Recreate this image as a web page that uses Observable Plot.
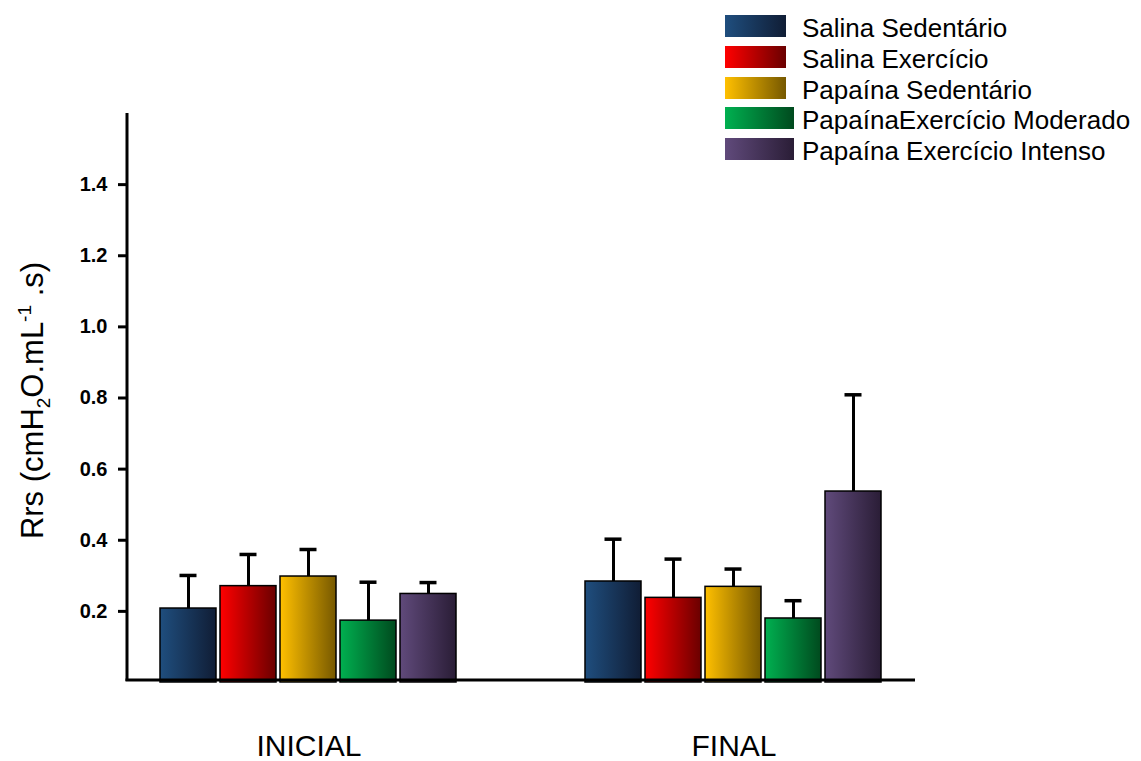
<!DOCTYPE html>
<html>
<head>
<meta charset="utf-8">
<script src="https://cdn.jsdelivr.net/npm/d3@7"></script>
<script src="https://cdn.jsdelivr.net/npm/@observablehq/plot@0.6"></script>
<style>
  html, body { margin: 0; padding: 0; background: #fff; }
  body { position: relative; width: 1141px; height: 761px; overflow: hidden; font-family: "Liberation Sans", Arial, sans-serif; }
  #legend { position: absolute; left: 725px; top: 15px; }
  .row { position: absolute; left: 0; display: flex; align-items: flex-start; white-space: nowrap; }
  .sw { height: 22px; }
  .lab { font-size: 26px; line-height: 26px; color: #000; }
</style>
</head>
<body>
<svg width="0" height="0" style="position:absolute">
  <defs id="grads"></defs>
</svg>
<div id="chart"></div>
<div id="legend"></div>
<script>
// ---- data ----
const groups = ["INICIAL", "FINAL"];
const series = ["Salina Sedentário", "Salina Exercício", "Papaína Sedentário", "PapaínaExercício Moderado", "Papaína Exercício Intenso"];
const meanInicial = [0.208, 0.271, 0.298, 0.174, 0.249];
const sdInicial   = [0.093, 0.089, 0.076, 0.108, 0.032];
const meanFinal   = [0.284, 0.238, 0.269, 0.180, 0.537];
const sdFinal     = [0.119, 0.109, 0.050, 0.050, 0.272];
const yTicks = [0.2, 0.4, 0.6, 0.8, 1.0, 1.2, 1.4];

// ---- styles ----
const gradStart = ["#1f4e7e", "#ff0000", "#ffc000", "#00b050", "#604a7b"];
const gradEnd   = ["#101d35", "#6a0000", "#765800", "#004a1e", "#2a1d36"];
const swatchW   = [61, 61, 61, 69, 69];

const defs = d3.select("#grads");
series.forEach((s, i) => {
  const g = defs.append("linearGradient").attr("id", "grad" + i)
    .attr("x1", "0").attr("x2", "1").attr("y1", "0").attr("y2", "0");
  g.append("stop").attr("offset", "0").attr("stop-color", gradStart[i]);
  g.append("stop").attr("offset", "1").attr("stop-color", gradEnd[i]);
});

const table = [];
groups.forEach((g, gi) => {
  const m = gi === 0 ? meanInicial : meanFinal;
  const s = gi === 0 ? sdInicial : sdFinal;
  series.forEach((name, i) => table.push({group: g, series: name, idx: i, mean: m[i], sd: s[i]}));
});

const font = "Liberation Sans, Arial, sans-serif";

const plot = Plot.plot({
  width: 1141,
  height: 761,
  marginTop: 113,
  marginBottom: 79,
  marginLeft: 127,
  marginRight: 226,
  style: {fontFamily: font, background: "white", color: "black"},
  fx: {domain: groups, paddingInner: 0.146, paddingOuter: 0},
  x: {domain: series, paddingInner: 0.06, paddingOuter: 0.529, axis: null},
  y: {domain: [0, 1.6]},
  color: {type: "identity"},
  marks: [
    Plot.ruleX(table, {fx: "group", x: "series", y1: "mean", y2: d => d.mean + d.sd, stroke: "black", strokeWidth: 3}),
    Plot.barY(table, {fx: "group", x: "series", y: "mean", fill: d => `url(#grad${d.idx})`, stroke: "black", strokeWidth: 1.5}),
    Plot.tickY(table, {fx: "group", x: "series", y: d => d.mean + d.sd, stroke: "black", strokeWidth: 3.5, insetLeft: 19.5, insetRight: 19.5}),
    Plot.axisY({ticks: yTicks, tickFormat: d3.format(".1f"), tickSize: 9, tickPadding: 11, fontSize: 20, fontWeight: "bold", strokeWidth: 3, label: null}),
    Plot.axisFx({anchor: "bottom", tickSize: 0, tickPadding: 52, fontSize: 30, label: null})
  ]
});

document.getElementById("chart").appendChild(plot);

const svg = d3.select(plot);
svg.selectAll('[aria-label="y-axis tick label"]').attr("font-size", 20).attr("font-weight", "bold");
svg.selectAll('[aria-label="fx-axis tick label"]').attr("font-size", 30);

// axis lines drawn from the plot's own y scale
const ys = plot.scale("y");
const y0 = ys.apply(0);
const yTop = ys.apply(1.6);
const xL = 127, xR = 1141 - 226;
svg.append("line").attr("x1", xL).attr("x2", xL).attr("y1", yTop).attr("y2", y0 - 1)
  .attr("stroke", "black").attr("stroke-width", 3);
svg.append("line").attr("x1", xL - 1.5).attr("x2", xR).attr("y1", y0 - 2).attr("y2", y0 - 2)
  .attr("stroke", "black").attr("stroke-width", 3);

// y axis title with sub/superscripts
const t = svg.append("text")
  .attr("transform", `translate(43, ${(yTop + y0) / 2 + 3}) rotate(-90)`)
  .attr("text-anchor", "middle")
  .attr("font-family", font)
  .attr("font-size", 31)
  .attr("fill", "black");
t.append("tspan").text("Rrs (cmH");
t.append("tspan").attr("font-size", 19).attr("dy", 7).text("2");
t.append("tspan").attr("dy", -7).text("O.mL");
t.append("tspan").attr("font-size", 19).attr("dy", -12).text("-1");
t.append("tspan").attr("dy", 12).text(" .s)");

// legend
const leg = d3.select("#legend");
series.forEach((s, i) => {
  const row = leg.append("div").attr("class", "row").style("top", (i * 30.8) + "px");
  row.append("div").attr("class", "sw")
    .style("width", swatchW[i] + "px")
    .style("margin-right", (77 - swatchW[i]) + "px")
    .style("background", `linear-gradient(to right, ${gradStart[i]}, ${gradEnd[i]})`);
  row.append("div").attr("class", "lab").text(s);
});
</script>
</body>
</html>
